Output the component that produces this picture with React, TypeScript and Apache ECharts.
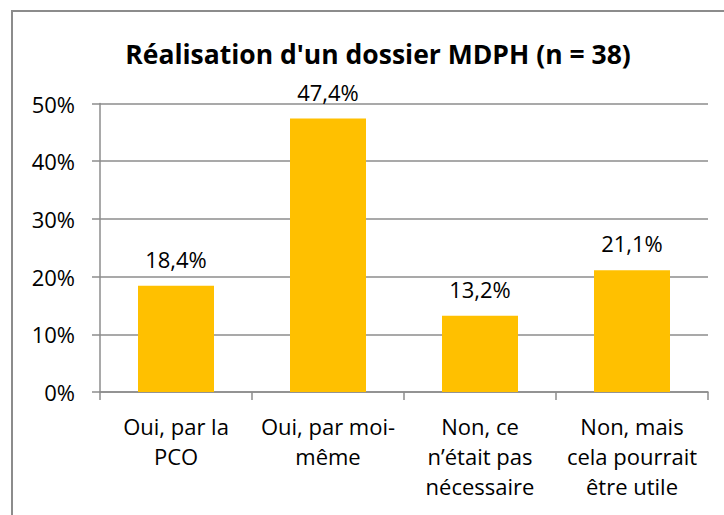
import React, { useEffect, useRef } from "react";
import * as echarts from "echarts";

const categories = [
  "Oui, par la\nPCO",
  "Oui, par moi-\nmême",
  "Non, ce\nn’était pas\nnécessaire",
  "Non, mais\ncela pourrait\nêtre utile",
];
const values = [18.4, 47.4, 13.2, 21.1];
const titleText = "Réalisation d'un dossier MDPH (n = 38)";

const FONT = "'Open Sans', sans-serif";

export default function App() {
  const ref = useRef<HTMLDivElement>(null);
  useEffect(() => {
    if (!ref.current) return;
    const chart = echarts.init(ref.current, null, { renderer: "svg" });
    chart.setOption({
      animation: false,
      backgroundColor: "#ffffff",
      textStyle: { fontFamily: FONT },
      title: {
        text: titleText,
        left: 373,
        top: 35,
        textAlign: "center",
        textStyle: { fontFamily: FONT, fontWeight: "bold", fontSize: 26.5, color: "#000000" },
      },
      graphic: [
        {
          type: "rect",
          shape: { x: 12, y: 11, width: 800, height: 600 },
          style: { fill: "none", stroke: "#8c8c8c", lineWidth: 2 },
          silent: true,
        },
      ],
      grid: { left: 100, right: 16, top: 103.5, bottom: 123, containLabel: false },
      xAxis: {
        type: "category",
        data: categories,
        axisLine: { lineStyle: { color: "#8c8c8c", width: 1.5 } },
        axisTick: { show: true, length: 8, alignWithLabel: false, lineStyle: { color: "#8c8c8c", width: 1.5 } },
        axisLabel: {
          interval: 0,
          margin: 19,
          fontFamily: FONT,
          fontSize: 22,
          lineHeight: 30,
          color: "#000000",
        },
      },
      yAxis: {
        type: "value",
        min: 0,
        max: 50,
        interval: 10,
        axisLine: { show: true, lineStyle: { color: "#8c8c8c", width: 1.5 } },
        axisTick: { show: true, length: 8, lineStyle: { color: "#8c8c8c", width: 1.5 } },
        splitLine: { show: true, lineStyle: { color: "#8c8c8c", width: 1.5 } },
        axisLabel: {
          formatter: "{value}%",
          margin: 25,
          fontFamily: FONT,
          fontSize: 22,
          color: "#000000",
        },
      },
      series: [
        {
          type: "bar",
          data: values,
          barCategoryGap: "50%",
          itemStyle: { color: "#FFC000" },
          label: {
            show: true,
            position: "top",
            distance: 16,
            fontFamily: FONT,
            fontSize: 22,
            color: "#000000",
            formatter: (p: any) => String(p.value.toFixed(1)).replace(".", ",") + "%",
          },
        },
      ],
    });
    return () => chart.dispose();
  }, []);
  return (
    <div
      ref={ref}
      style={{ position: "absolute", left: 0, top: 0, width: 724, height: 515 }}
    />
  );
}
